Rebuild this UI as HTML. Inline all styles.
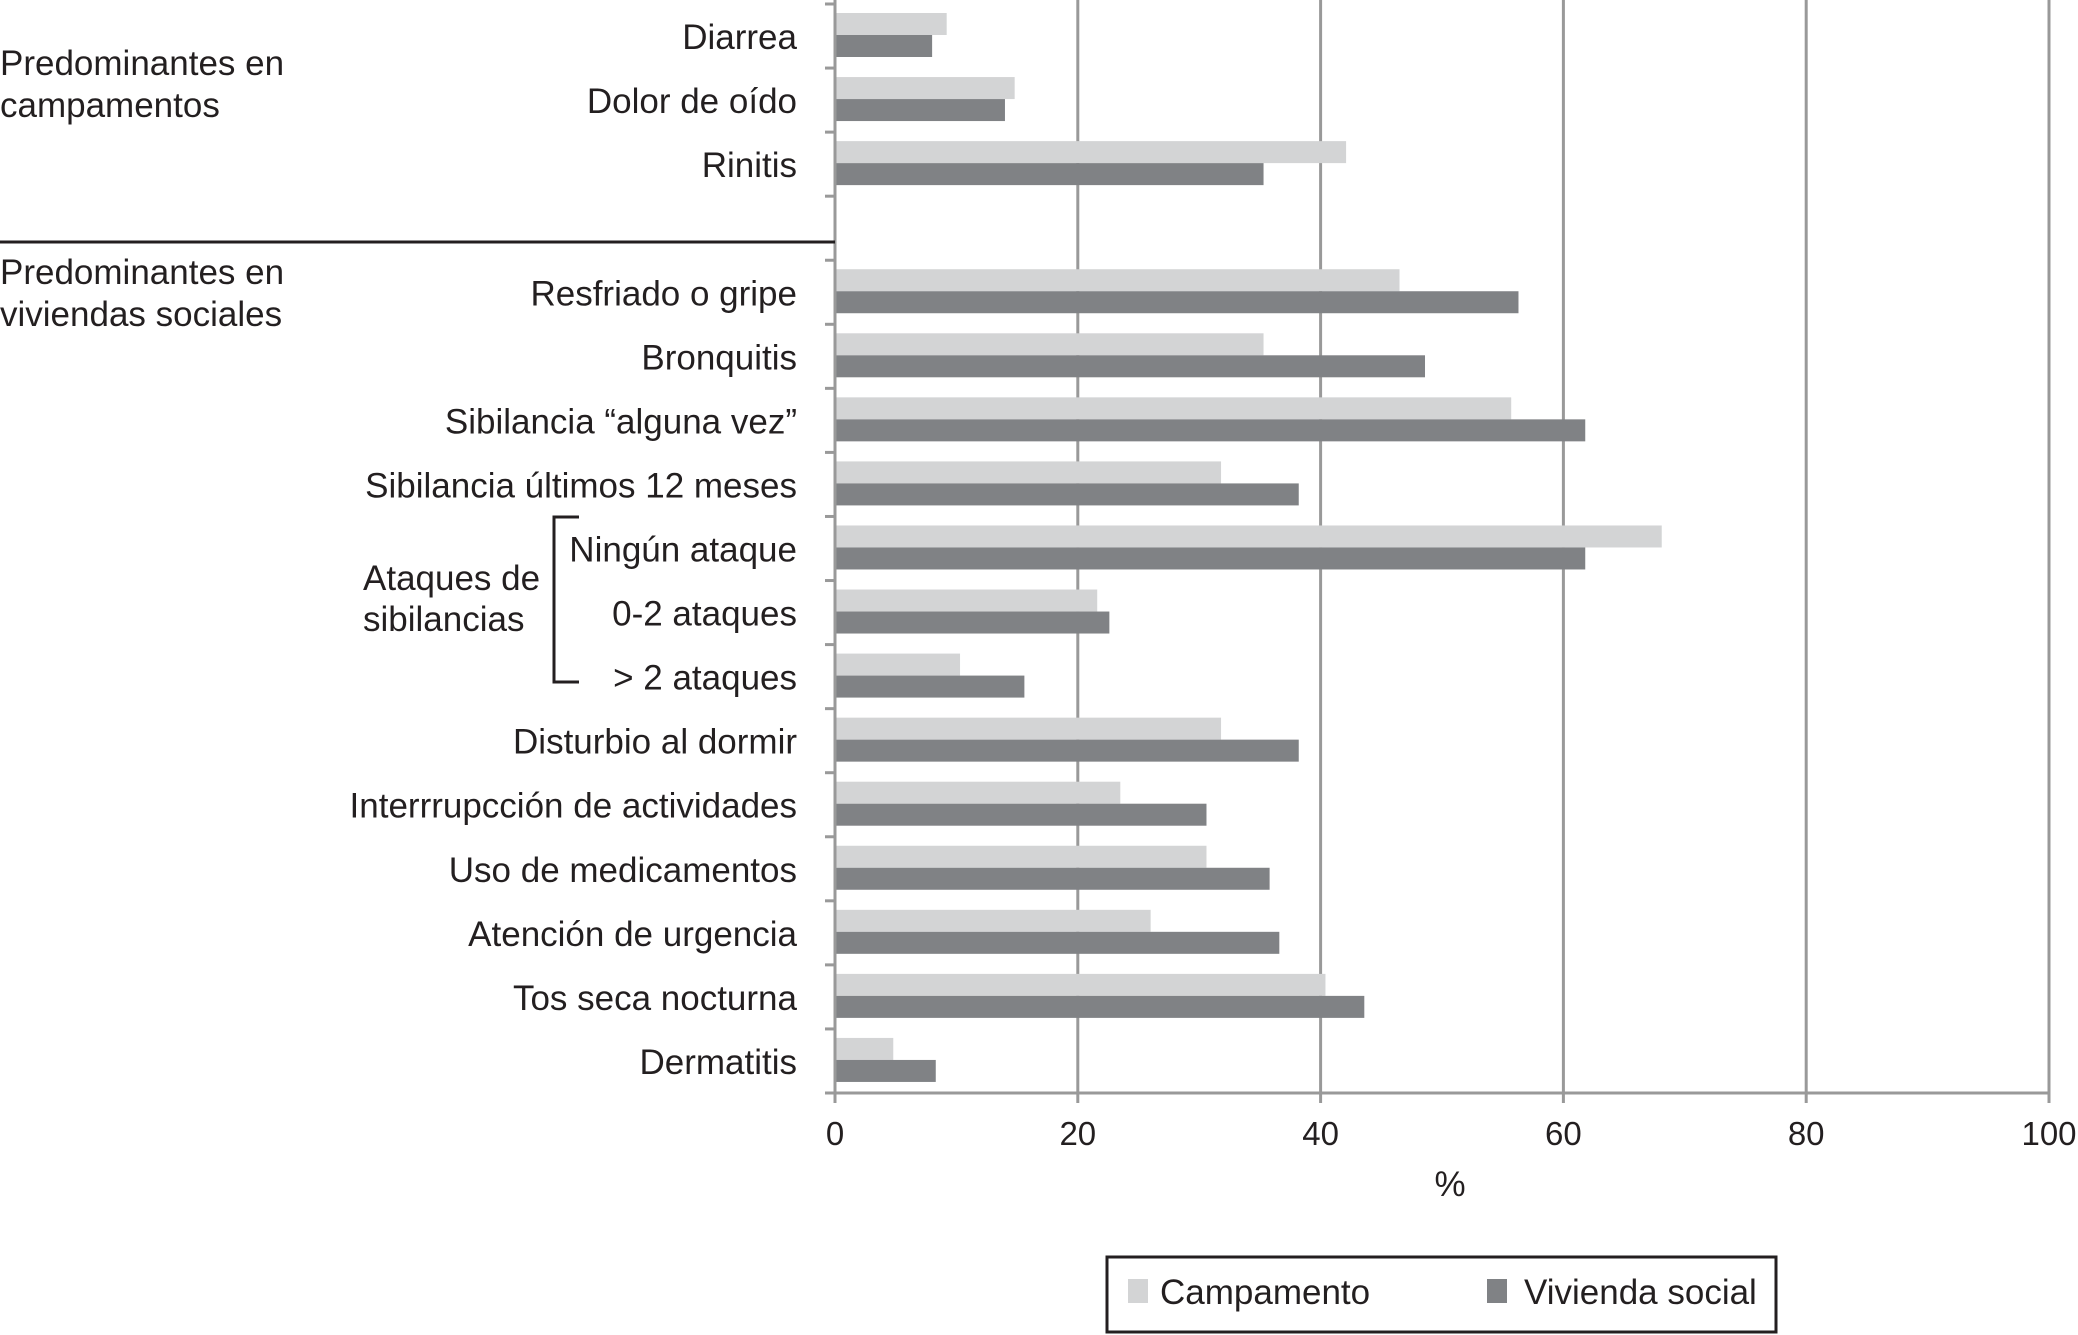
<!DOCTYPE html>
<html><head><meta charset="utf-8"><style>
html,body{margin:0;padding:0;background:#fff;}
svg{display:block;font-family:"Liberation Sans",Arial,sans-serif;}
</style></head><body>
<svg id="chart" width="2078" height="1335" viewBox="0 0 2078 1335"></svg>
<script>
const categories = ["Diarrea","Dolor de oído","Rinitis","","Resfriado o gripe","Bronquitis","Sibilancia \u201calguna vez\u201d","Sibilancia últimos 12 meses","Ningún ataque","0-2 ataques","> 2 ataques","Disturbio al dormir","Interrrupcción de actividades","Uso de medicamentos","Atención de urgencia","Tos seca nocturna","Dermatitis"];
const campamento = [9.2,14.8,42.1,null,46.5,35.3,55.7,31.8,68.1,21.6,10.3,31.8,23.5,30.6,26.0,40.4,4.8];
const vivienda = [8.0,14.0,35.3,null,56.3,48.6,61.8,38.2,61.8,22.6,15.6,38.2,30.6,35.8,36.6,43.6,8.3];
const xTicks = [0,20,40,60,80,100];

const NS="http://www.w3.org/2000/svg";
const svg=document.getElementById('chart');
const X0=835,X1=2049,Y0=4,Y1=1093;
const slot=(Y1-Y0)/categories.length;
const xs=v=>X0+(v/100)*(X1-X0);
function el(t,a,txt){const e=document.createElementNS(NS,t);for(const k in a)e.setAttribute(k,a[k]);if(txt!==undefined)e.textContent=txt;svg.appendChild(e);return e;}

xTicks.forEach(t=>{
  if(t===0)return;
  const g=el('line',{x1:xs(t),x2:xs(t),y1:Y0-4,y2:Y1+10,stroke:'#999',"stroke-width":3});
  
  
});
categories.forEach((c,i)=>{
  const top=Y0+i*slot;
  if(campamento[i]!=null){
    const b=el('rect',{x:X0,y:top+9,width:xs(campamento[i])-X0,height:22,fill:'#d3d4d5'});
    
    
  }
  if(vivienda[i]!=null){
    const b=el('rect',{x:X0,y:top+31,width:xs(vivienda[i])-X0,height:22,fill:'#808285'});
    
    
  }
  if(c){
    const l=el('text',{x:797,y:top+slot/2+13,"text-anchor":'end',"font-size":35,fill:'#231f20'},c);
    
    
  }
});
for(let i=0;i<=categories.length;i++){
  const y=Y0+i*slot;
  const t=el('line',{x1:X0-10,x2:X0,y1:y,y2:y,stroke:'#999',"stroke-width":3});
  
  
}
const ya=el('line',{x1:X0,x2:X0,y1:0,y2:Y1+10,stroke:'#999',"stroke-width":3});


const xa=el('line',{x1:X0-10,x2:X1,y1:Y1,y2:Y1,stroke:'#999',"stroke-width":3});


xTicks.forEach(t=>{
  const l=el('text',{x:xs(t),y:1145,"text-anchor":'middle',"font-size":33,fill:'#231f20'},String(t));
  
  
});
</script>
<svg style="position:absolute;left:0;top:0" width="2078" height="1335">
<g font-family="Liberation Sans, Arial, sans-serif" font-size="35" fill="#231f20">
<text x="1450" y="1196" text-anchor="middle">%</text>
<text x="0" y="75"><tspan x="0">Predominantes en</tspan><tspan x="0" dy="42">campamentos</tspan></text>
<text x="0" y="284"><tspan x="0">Predominantes en</tspan><tspan x="0" dy="42">viviendas sociales</tspan></text>
<text x="363" y="590"><tspan x="363">Ataques de</tspan><tspan x="363" dy="41">sibilancias</tspan></text>
</g>
<line x1="0" x2="835" y1="242" y2="242" stroke="#231f20" stroke-width="3"/>
<polyline points="579,517 554,517 554,682 579,682" fill="none" stroke="#231f20" stroke-width="3"/>
<g>
<rect x="1107" y="1257" width="669" height="75" fill="#fff" stroke="#231f20" stroke-width="3"/>
<rect x="1128" y="1279" width="20" height="24" fill="#d3d4d5"/>
<text x="1160" y="1304" font-family="Liberation Sans, Arial, sans-serif" font-size="35" fill="#231f20">Campamento</text>
<rect x="1487" y="1279" width="20" height="24" fill="#808285"/>
<text x="1524" y="1304" font-family="Liberation Sans, Arial, sans-serif" font-size="35" fill="#231f20">Vivienda social</text>
</g>
</svg>
</body></html>
